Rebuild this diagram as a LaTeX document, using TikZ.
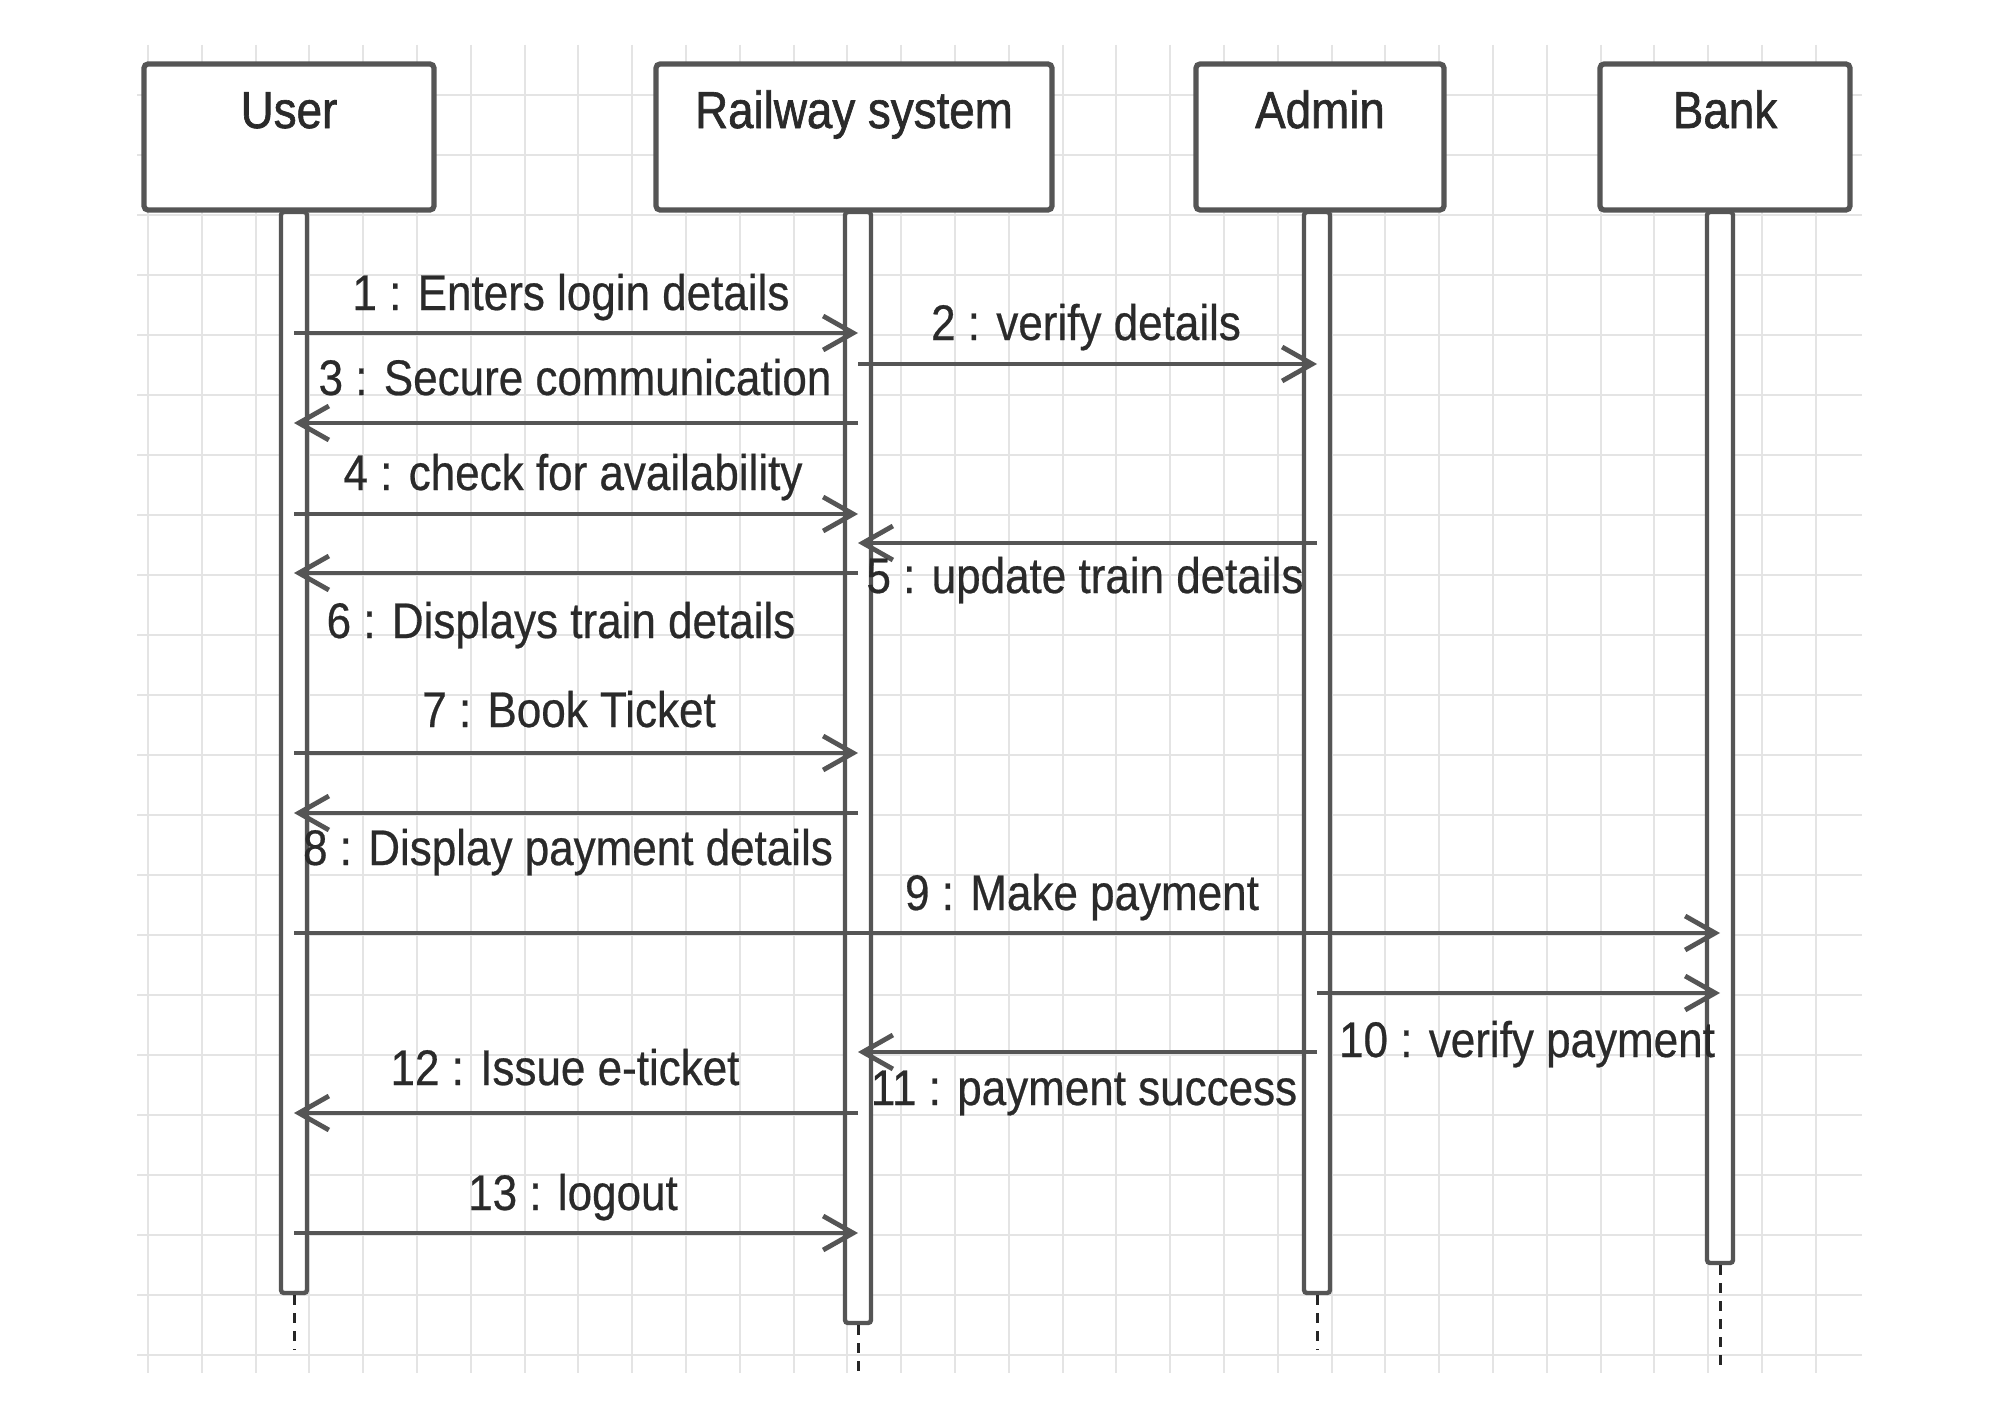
\documentclass[tikz,border=0pt]{standalone}
\usepackage{fontspec}
\setmainfont[FakeStretch=0.88]{Liberation Sans}
\newfontfamily\hdrfont[FakeStretch=0.88,FakeBold=1.2]{Liberation Sans}
\newfontfamily\lblfont[FakeStretch=0.88,FakeBold=0.5]{Liberation Sans}
\usetikzlibrary{arrows.meta,fit}
\definecolor{gridc}{HTML}{E4E4E4}
\definecolor{linec}{HTML}{555555}
\definecolor{txtc}{HTML}{2A2A2A}
\begin{document}
\begin{tikzpicture}[x=0.5pt,y=-0.5pt,
  hdr/.style={draw=linec, line width=2.6pt, fill=white, rounded corners=2pt, inner sep=0pt},
  hdrtext/.style={anchor=base, text=txtc, font=\hdrfont\fontsize{26}{30}\selectfont, inner sep=0pt},
  act/.style={draw=linec, line width=2.2pt, fill=white, rounded corners=1.5pt, inner sep=0pt},
  msg/.style={draw=linec, line width=2.4pt, -{Straight Barb[length=15pt,width=17pt]}},
  lbl/.style={anchor=base, text=txtc, font=\lblfont\fontsize{25}{30}\selectfont, inner sep=0pt},
  life/.style={draw=black!85, line width=1.5pt, dash pattern=on 5pt off 4pt},
  gridline/.style={draw=gridc, line width=1pt}]
\fill[white] (0,0) rectangle (2000,1413);
\useasboundingbox (0,0) rectangle (2000,1413);
% grid
\begin{scope}
  \clip (137,45) rectangle (1862,1373);
  \foreach \i in {0,...,31} \draw[gridline] ({148+53.8*\i},45) -- ({148+53.8*\i},1373);
  \foreach \j in {1,...,22} \draw[gridline] (137,{35+60*\j}) -- (1862,{35+60*\j});
\end{scope}
% header boxes
\node[hdr, fit={(144,64) (434,210)}] (user) {};
\node[hdr, fit={(656,64) (1052,210)}] (rail) {};
\node[hdr, fit={(1196,64) (1444,210)}] (admin) {};
\node[hdr, fit={(1600,64) (1850,210)}] (bank) {};
\node[hdrtext] (userT) at (289,128) {User};
\node[hdrtext] (railT) at (854,128) {Railway system};
\node[hdrtext] (adminT) at (1320,128) {Admin};
\node[hdrtext] (bankT) at (1725,128) {Bank};
% activations
\node[act, fit={(281,212) (307,1293)}] (actU) {};
\node[act, fit={(845,212) (871,1323)}] (actR) {};
\node[act, fit={(1304,212) (1330,1293)}] (actA) {};
\node[act, fit={(1707,212) (1733,1263)}] (actB) {};
% dashed lifeline ends
\coordinate (endU) at (294,1350);
\coordinate (endR) at (858,1372);
\coordinate (endA) at (1317,1350);
\coordinate (endB) at (1720,1372);
\draw[life] (actU.south) -- (endU);
\draw[life] (actR.south) -- (endR);
\draw[life] (actA.south) -- (endA);
\draw[life] (actB.south) -- (endB);
% messages
\draw[msg] (actU.center |- 0,333) -- (actR.center |- 0,333);
\node[lbl] (l1) at (571,310) {1 : Enters login details};
\draw[msg] (actR.center |- 0,364) -- (actA.center |- 0,364);
\node[lbl] (l2) at (1086,340) {2 : verify details};
\draw[msg] (actR.center |- 0,423) -- (actU.center |- 0,423);
\node[lbl] (l3) at (575,395) {3 : Secure communication};
\draw[msg] (actU.center |- 0,514) -- (actR.center |- 0,514);
\node[lbl] (l4) at (573,490) {4 : check for availability};
\draw[msg] (actA.center |- 0,543) -- (actR.center |- 0,543);
\node[lbl] (l5) at (1085,593) {5 : update train details};
\draw[msg] (actR.center |- 0,573) -- (actU.center |- 0,573);
\node[lbl] (l6) at (561,638) {6 : Displays train details};
\draw[msg] (actU.center |- 0,753) -- (actR.center |- 0,753);
\node[lbl] (l7) at (569,727) {7 : Book Ticket};
\draw[msg] (actR.center |- 0,813) -- (actU.center |- 0,813);
\node[lbl] (l8) at (568,865) {8 : Display payment details};
\draw[msg] (actU.center |- 0,933) -- (actB.center |- 0,933);
\node[lbl] (l9) at (1082,910) {9 : Make payment};
\draw[msg] (actA.center |- 0,993) -- (actB.center |- 0,993);
\node[lbl] (l10) at (1527,1057) {10 : verify payment};
\draw[msg] (actA.center |- 0,1052) -- (actR.center |- 0,1052);
\node[lbl] (l11) at (1084,1105) {11 : payment success};
\draw[msg] (actR.center |- 0,1113) -- (actU.center |- 0,1113);
\node[lbl] (l12) at (565,1085) {12 : Issue e-ticket};
\draw[msg] (actU.center |- 0,1233) -- (actR.center |- 0,1233);
\node[lbl] (l13) at (573,1210) {13 : logout};
\end{tikzpicture}
\end{document}
